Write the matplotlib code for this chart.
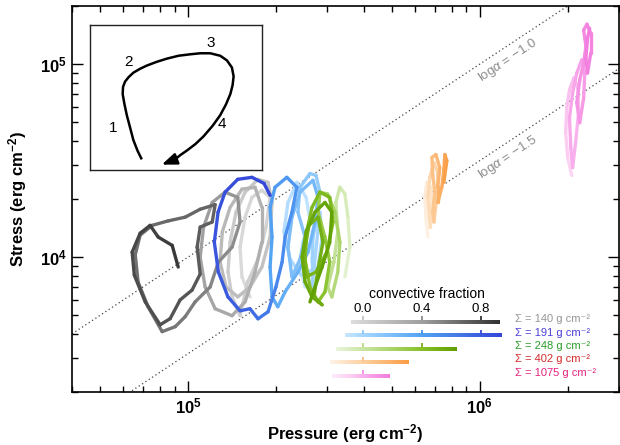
#!/usr/bin/env python3
# -*- coding:utf-8 -*-

import numpy as np
import matplotlib as mpl
mpl.use('Agg')
import matplotlib.pyplot as plt
from matplotlib.collections import LineCollection
from matplotlib.colors import LinearSegmentedColormap, Normalize
from matplotlib.ticker import LogLocator, FuncFormatter, NullFormatter

plt.rcParams['font.family'] = ['Liberation Sans', 'DejaVu Sans']
plt.rcParams['mathtext.fontset'] = 'custom'
plt.rcParams['mathtext.rm'] = 'Liberation Sans'
plt.rcParams['mathtext.it'] = 'Liberation Sans:italic'
plt.rcParams['mathtext.bf'] = 'Liberation Sans:bold'


# surface density of each run (g cm^-2)
sigma = [140, 191, 248, 402, 1075]

# pressure (1e5 erg cm^-2), stress (1e4 erg cm^-2), convective fraction
p140 = [1.63, 1.53, 1.507, 1.568, 1.656, 1.79, 1.91, 1.85, 1.737, 1.60,
        1.507, 1.415, 1.37, 1.393, 1.46, 1.568, 1.737, 1.88, 1.94, 1.91, 1.79,
        1.63, 1.48, 1.35, 1.287, 1.31, 1.393, 1.53, 1.696, 1.79, 1.79, 1.696,
        1.568, 1.415, 1.238, 1.144, 1.10, 1.13, 1.21, 1.339, 1.48, 1.507,
        1.415, 1.27, 1.19, 1.057, 0.977, 0.903,
        0.815, 0.729, 0.674, 0.659, 0.685, 0.753, 0.854, 0.977, 1.10, 1.238,
        1.21, 1.10, 1.074, 1.10, 1.032, 0.939, 0.868, 0.802, 0.713, 0.654,
        0.643, 0.685, 0.741, 0.79, 0.882, 0.925]
s140 = [0.622, 0.789, 1.126, 1.61, 2.04, 2.22, 2.04, 1.43, 0.976, 0.743,
        0.497, 0.622, 0.837, 1.195, 1.71, 2.17, 2.53, 2.44, 1.92, 1.27, 0.888,
        0.70, 0.622, 0.70, 0.942, 1.35, 1.81, 2.25, 2.30, 1.81, 1.195, 0.837,
        0.586, 0.497, 0.54, 0.70, 1.0, 1.43, 1.92, 2.17, 2.04, 1.52,
        1.126, 0.942, 0.70, 0.586, 0.491, 0.436,
        0.411, 0.553, 0.743, 1.03, 1.30, 1.46, 1.54, 1.61, 1.77, 1.87,
        1.52, 1.43, 1.126, 0.817, 0.675, 0.60, 0.48, 0.446, 0.586, 0.807,
        1.061, 1.33, 1.46, 1.27, 1.15, 0.888]
f140 = [-0.07, -0.06, -0.05, -0.04, -0.03, -0.02, -0.01, 0.00, 0.01, 0.02,
        0.03, 0.04, 0.05, 0.06, 0.07, 0.08, 0.09, 0.10, 0.11, 0.12, 0.14,
        0.15, 0.16, 0.17, 0.19, 0.20, 0.21, 0.22, 0.24, 0.25, 0.26, 0.28,
        0.30, 0.32, 0.34, 0.36, 0.38, 0.40, 0.42, 0.44, 0.46, 0.48,
        0.50, 0.52, 0.54, 0.56, 0.58, 0.60,
        0.61, 0.62, 0.63, 0.64, 0.65, 0.66, 0.67, 0.68, 0.69, 0.70,
        0.71, 0.72, 0.73, 0.74, 0.75, 0.76, 0.77, 0.78, 0.80, 0.81,
        0.82, 0.84, 0.85, 0.87, 0.89, 0.91]

p191 = [2.517, 2.419, 2.47, 2.617, 2.537, 2.36, 2.20, 2.13, 2.236, 2.44,
        2.79, 2.88, 2.83,
        2.66, 2.66, 2.68, 2.79, 2.83, 2.745, 2.617, 2.419, 2.38, 2.517,
        2.419, 2.27, 2.20, 2.27, 2.419, 2.68, 2.79, 2.723, 2.577, 2.38,
        2.15, 2.03, 1.94, 1.91, 1.94, 1.91, 1.986, 2.18, 2.36, 2.27,
        2.15, 2.10, 2.0, 1.88, 1.737, 1.63,
        1.507, 1.37, 1.27, 1.23, 1.267, 1.339, 1.48, 1.656, 1.82, 1.91]
s191 = [0.70, 0.888, 1.195, 1.57, 2.04, 2.44, 1.92, 1.35, 0.976, 0.807,
        0.888, 1.27, 1.71,
        0.70, 0.942, 1.27, 1.71, 2.17, 2.65, 2.71, 2.30, 1.71, 1.27,
        0.976, 0.789, 1.126, 1.61, 2.17, 2.50, 2.04, 1.52, 1.061, 0.837,
        0.66, 0.553, 0.622, 0.888, 1.27, 1.81, 2.30, 2.59, 2.30, 1.71,
        1.27, 0.942, 0.70, 0.521, 0.479, 0.54,
        0.527, 0.622, 0.837, 1.195, 1.71, 2.17, 2.53, 2.59, 2.41, 2.09]
f191 = [-0.12, -0.11, -0.10, -0.09, -0.08, -0.07, -0.05, -0.04, -0.03, -0.02,
        -0.01, 0.00, 0.01,
        0.02, 0.04, 0.05, 0.07, 0.08, 0.10, 0.11, 0.13, 0.14, 0.16,
        0.17, 0.19, 0.20, 0.21, 0.22, 0.23, 0.24, 0.25, 0.27, 0.28,
        0.30, 0.33, 0.36, 0.38, 0.40, 0.42, 0.44, 0.46, 0.48, 0.50,
        0.52, 0.54, 0.57, 0.62, 0.68, 0.74,
        0.78, 0.80, 0.82, 0.84, 0.86, 0.88, 0.89, 0.90, 0.92, 0.93]

p248 = [3.448, 3.587, 3.53, 3.448, 3.315, 3.21, 3.26, 3.16, 3.01, 3.11,
        3.26, 3.315, 3.187, 3.01, 2.83, 2.79, 2.945, 3.06, 2.945, 2.79,
        2.617, 2.517, 2.56, 2.66, 2.83, 3.06, 3.14, 2.99, 2.745, 2.537,
        2.50, 2.597, 2.79, 2.90, 2.79, 2.70, 2.88,
        2.66, 2.517, 2.46, 2.537, 2.723, 2.945, 3.11, 3.06, 2.88, 2.723, 2.617]
s248 = [0.789, 1.126, 1.61, 2.12, 2.30, 1.92, 1.35, 0.942, 0.70, 0.622,
        0.837, 1.195, 1.71, 2.12, 2.17, 1.71, 1.27, 0.942, 0.66, 0.586,
        0.70, 0.976, 1.39, 1.81, 2.17, 2.04, 1.52, 1.061, 0.837, 0.789,
        1.061, 1.46, 1.61, 1.195, 0.868, 0.622, 0.566,
        0.622, 0.743, 1.0, 1.35, 1.71, 1.92, 1.71, 1.195, 0.888, 0.70, 0.586]
f248 = [-0.15, -0.12, -0.09, -0.06, -0.03, 0.00, 0.03, 0.06, 0.09, 0.12,
        0.15, 0.18, 0.21, 0.24, 0.27, 0.30, 0.33, 0.36, 0.38, 0.40,
        0.42, 0.43, 0.44, 0.45, 0.46, 0.47, 0.47, 0.48, 0.49, 0.50,
        0.51, 0.51, 0.52, 0.53, 0.54, 0.55, 0.55,
        0.56, 0.57, 0.58, 0.59, 0.59, 0.60, 0.61, 0.62, 0.62, 0.63, 0.64]

p402 = [6.64, 6.54, 6.48, 6.59, 6.80, 6.85, 6.74, 6.74, 6.64, 6.74, 6.96,
        7.18, 7.12, 6.96, 6.90, 7.01, 6.90, 6.85, 7.07, 7.29, 7.18, 7.18,
        7.41, 7.53, 7.59, 7.71, 7.53]
s402 = [1.27, 1.57, 2.04, 2.44, 2.30, 1.81, 1.43, 1.52, 2.04, 2.59, 3.09,
        2.74, 2.04, 1.52, 1.71, 2.17, 2.65, 3.28, 3.40, 2.91, 2.30, 1.92,
        2.30, 2.85, 3.40, 3.16, 2.44]
f402 = [-0.22, -0.20, -0.18, -0.16, -0.14, -0.12, -0.10, -0.09, -0.07, -0.05,
        -0.03, -0.01, 0.01, 0.03, 0.05, 0.07, 0.09, 0.11, 0.13, 0.15, 0.17,
        0.19, 0.21, 0.23, 0.25, 0.28, 0.30]

p1075 = [20.66, 20.0, 19.7, 19.86, 20.3, 21.0, 21.7, 21.8, 21.3, 20.8,
         20.5, 20.3, 20.8, 21.5, 22.35, 22.9, 22.7, 22.0, 21.5, 22.0,
         22.7, 23.1, 22.7, 23.3, 24.0, 24.0, 23.4, 23.1, 23.4, 23.8]
s1075 = [2.65, 3.28, 4.41, 5.93, 7.35, 8.47, 7.52, 5.59, 3.92, 2.91,
         3.69, 5.27, 7.09, 8.98, 10.5, 8.98, 6.68, 4.97, 6.29, 8.27,
         10.1, 12.4, 15.0, 16.1, 14.45, 11.4, 8.98, 10.7, 13.6, 15.3]
f1075 = [-0.12, -0.10, -0.08, -0.06, -0.05, -0.04, -0.03, -0.02, -0.01, 0.00,
         0.01, 0.02, 0.03, 0.04, 0.05, 0.06, 0.07, 0.08, 0.09, 0.10,
         0.11, 0.12, 0.13, 0.14, 0.15, 0.15, 0.16, 0.17, 0.17, 0.18]

# range of convective fraction covered by each run
conv_lo = [-0.08, -0.12, -0.18, -0.23, -0.21]
conv_hi = [0.93, 0.94, 0.64, 0.31, 0.18]
conv_ticks = [0.0, 0.4, 0.8]

# reference lines: stress = alpha * pressure
log_alpha = [-1.0, -1.5]
alpha_label_p = [1.25e6, 1.25e6]
alpha_label_s = [1.04e5, 3.3e4]

# schematic cycle in the inset (axes fraction)
cycle_x = [0.301, 0.276, 0.252, 0.233, 0.214, 0.200, 0.190, 0.192, 0.204,
           0.225, 0.252, 0.291, 0.330, 0.388, 0.447, 0.515, 0.583, 0.641,
           0.699, 0.757, 0.796, 0.825, 0.835, 0.829, 0.816, 0.790, 0.757,
           0.713, 0.660, 0.612, 0.563, 0.524, 0.495]
cycle_y = [0.073, 0.134, 0.207, 0.293, 0.378, 0.456, 0.524, 0.573, 0.610,
           0.641, 0.671, 0.698, 0.720, 0.746, 0.768, 0.788, 0.798, 0.805,
           0.805, 0.788, 0.756, 0.707, 0.646, 0.585, 0.524, 0.451, 0.378,
           0.305, 0.232, 0.178, 0.134, 0.102, 0.073]
cycle_tip = (0.417, 0.037)
phase_labels = ['1', '2', '3', '4']
phase_x = [0.136, 0.223, 0.699, 0.767]
phase_y = [0.293, 0.744, 0.878, 0.317]

runs = [(p140, s140, f140), (p191, s191, f191), (p248, s248, f248),
        (p402, s402, f402), (p1075, s1075, f1075)]

label_colors = ['#959595', '#4b3ed6', '#2a9d2a', '#d42a2a', '#e3237f']

# colour stops (convective fraction, colour) for each run
fmin, fmax = -0.3, 0.95
stops = [
    [(-0.3, '#fbfbfb'), (0.0, '#d2d2d2'), (0.4, '#a0a0a0'), (0.8, '#4e4e4e'), (0.95, '#2e2e2e')],
    [(-0.3, '#ffffff'), (0.0, '#a6d6ff'), (0.4, '#52a3f4'), (0.8, '#3c5de0'), (0.95, '#3443d6')],
    [(-0.3, '#ffffff'), (0.0, '#cbe6a4'), (0.4, '#88c12a'), (0.65, '#5f9e00'), (0.95, '#4a8000')],
    [(-0.3, '#ffffff'), (0.0, '#fdd0a0'), (0.3, '#fa9e48'), (0.95, '#f07800')],
    [(-0.3, '#ffffff'), (-0.1, '#fcd2f3'), (0.0, '#f9aeec'), (0.18, '#f27cde'), (0.95, '#e040c0')],
]


def make_cmap(name, st):
    return LinearSegmentedColormap.from_list(
        name, [((f - fmin) / (fmax - fmin), c) for f, c in st])


norm = Normalize(fmin, fmax)
cmaps = [make_cmap('run%d' % i, st) for i, st in enumerate(stops)]

fig = plt.figure(figsize=(6.2, 4.45), dpi=100)
ax = fig.add_axes([72 / 620, 1 - 392 / 445, 547 / 620, 386 / 445])
ax.set_xscale('log')
ax.set_yscale('log')
ax.set_xlim(4e4, 3e6)
ax.set_ylim(2e3, 2e5)

# reference lines
pline = np.array([4e4, 3e6])
for la, lp, ls_ in zip(log_alpha, alpha_label_p, alpha_label_s):
    ax.plot(pline, 10 ** la * pline, ls=(0, (1, 2.2)), color='#444444', lw=0.9, zorder=1)
    ax.text(lp, ls_, r'log$\alpha$ = $-$%.1f' % abs(la), rotation=33.6,
            color='#8a8a8a', fontsize=9.5, ha='center', va='center',
            rotation_mode='anchor')

# stress-pressure tracks coloured by convective fraction
for (p, s, f), cmap in zip(runs, cmaps):
    pts = np.column_stack([np.array(p) * 1e5, np.array(s) * 1e4])
    segs = np.stack([pts[:-1], pts[1:]], axis=1)
    f = np.array(f)
    cols = cmap(norm(0.5 * (f[:-1] + f[1:])))
    lc = LineCollection(segs, colors=cols, linewidths=2.4, capstyle='round',
                        joinstyle='round', zorder=2)
    ax.add_collection(lc)

ax.xaxis.set_major_locator(LogLocator(base=10))
ax.xaxis.set_minor_locator(LogLocator(base=10, subs=np.arange(2, 10)))
ax.yaxis.set_major_locator(LogLocator(base=10))
ax.yaxis.set_minor_locator(LogLocator(base=10, subs=np.arange(2, 10)))
expfmt = FuncFormatter(lambda v, pos: r'$\mathbf{10^{%d}}$' % round(np.log10(v)))
ax.xaxis.set_major_formatter(expfmt)
ax.yaxis.set_major_formatter(expfmt)
ax.xaxis.set_minor_formatter(NullFormatter())
ax.yaxis.set_minor_formatter(NullFormatter())
ax.tick_params(which='both', direction='in', top=True, right=True, width=1.0,
               labelsize=12)
ax.tick_params(which='major', length=8)
ax.tick_params(which='minor', length=4)
for sp in ax.spines.values():
    sp.set_linewidth(1.2)

ax.set_xlabel(r'Pressure (erg cm$^{\mathbf{-2}}$)', fontsize=12, fontweight='bold',
              labelpad=4)
ax.set_ylabel(r'Stress (erg cm$^{\mathbf{-2}}$)', fontsize=12, fontweight='bold',
              labelpad=8)

# inset: schematic of the cycle
iax = fig.add_axes([90 / 620, 1 - 170 / 445, 172 / 620, 145 / 445])
iax.set_xlim(0, 1)
iax.set_ylim(0, 1)
iax.set_xticks([])
iax.set_yticks([])
for sp in iax.spines.values():
    sp.set_linewidth(1.0)
    sp.set_color('#222222')
iax.plot(cycle_x, cycle_y, color='black', lw=1.8, solid_capstyle='butt',
         solid_joinstyle='round')
iax.annotate('', xy=cycle_tip, xytext=(cycle_x[-1], cycle_y[-1]),
             arrowprops=dict(arrowstyle='-|>,head_length=0.9,head_width=0.35',
                             color='black', lw=1.8, shrinkA=0, shrinkB=0))
for lab, x, y in zip(phase_labels, phase_x, phase_y):
    iax.text(x, y, lab, fontsize=11, ha='center', va='center')

# legend: convective fraction bars for each run
lax = fig.add_axes([330 / 620, 1 - 385 / 445, 175 / 620, 100 / 445])
lax.axis('off')
for i, (lo, hi, cmap) in enumerate(zip(conv_lo, conv_hi, cmaps)):
    grad = np.linspace(lo, hi, 200)[None, :]
    lax.imshow(grad, cmap=cmap, norm=norm, extent=(lo, hi, i + 0.13, i - 0.13),
               aspect='auto', interpolation='bilinear')
    for t in conv_ticks:
        if lo < t < hi:
            lax.plot([t, t], [i - 0.13, i - 0.42], color=cmap(norm(t + 0.12)),
                     lw=1.3, solid_capstyle='butt')
    lax.text(1.03, i - 0.22, 'Σ = %d g cm⁻²' % sigma[i],
             color=label_colors[i], fontsize=8, ha='left', va='center')
for t in conv_ticks:
    lax.text(t, -0.96, '%.1f' % t, fontsize=9.5, ha='center', va='center')
lax.text(0.434, -2.07, 'convective fraction', fontsize=10, ha='center', va='center')
lax.set_xlim(-0.224, 0.963)
lax.set_ylim(4.67, -2.74)

fig.savefig('out.png', dpi=100)
